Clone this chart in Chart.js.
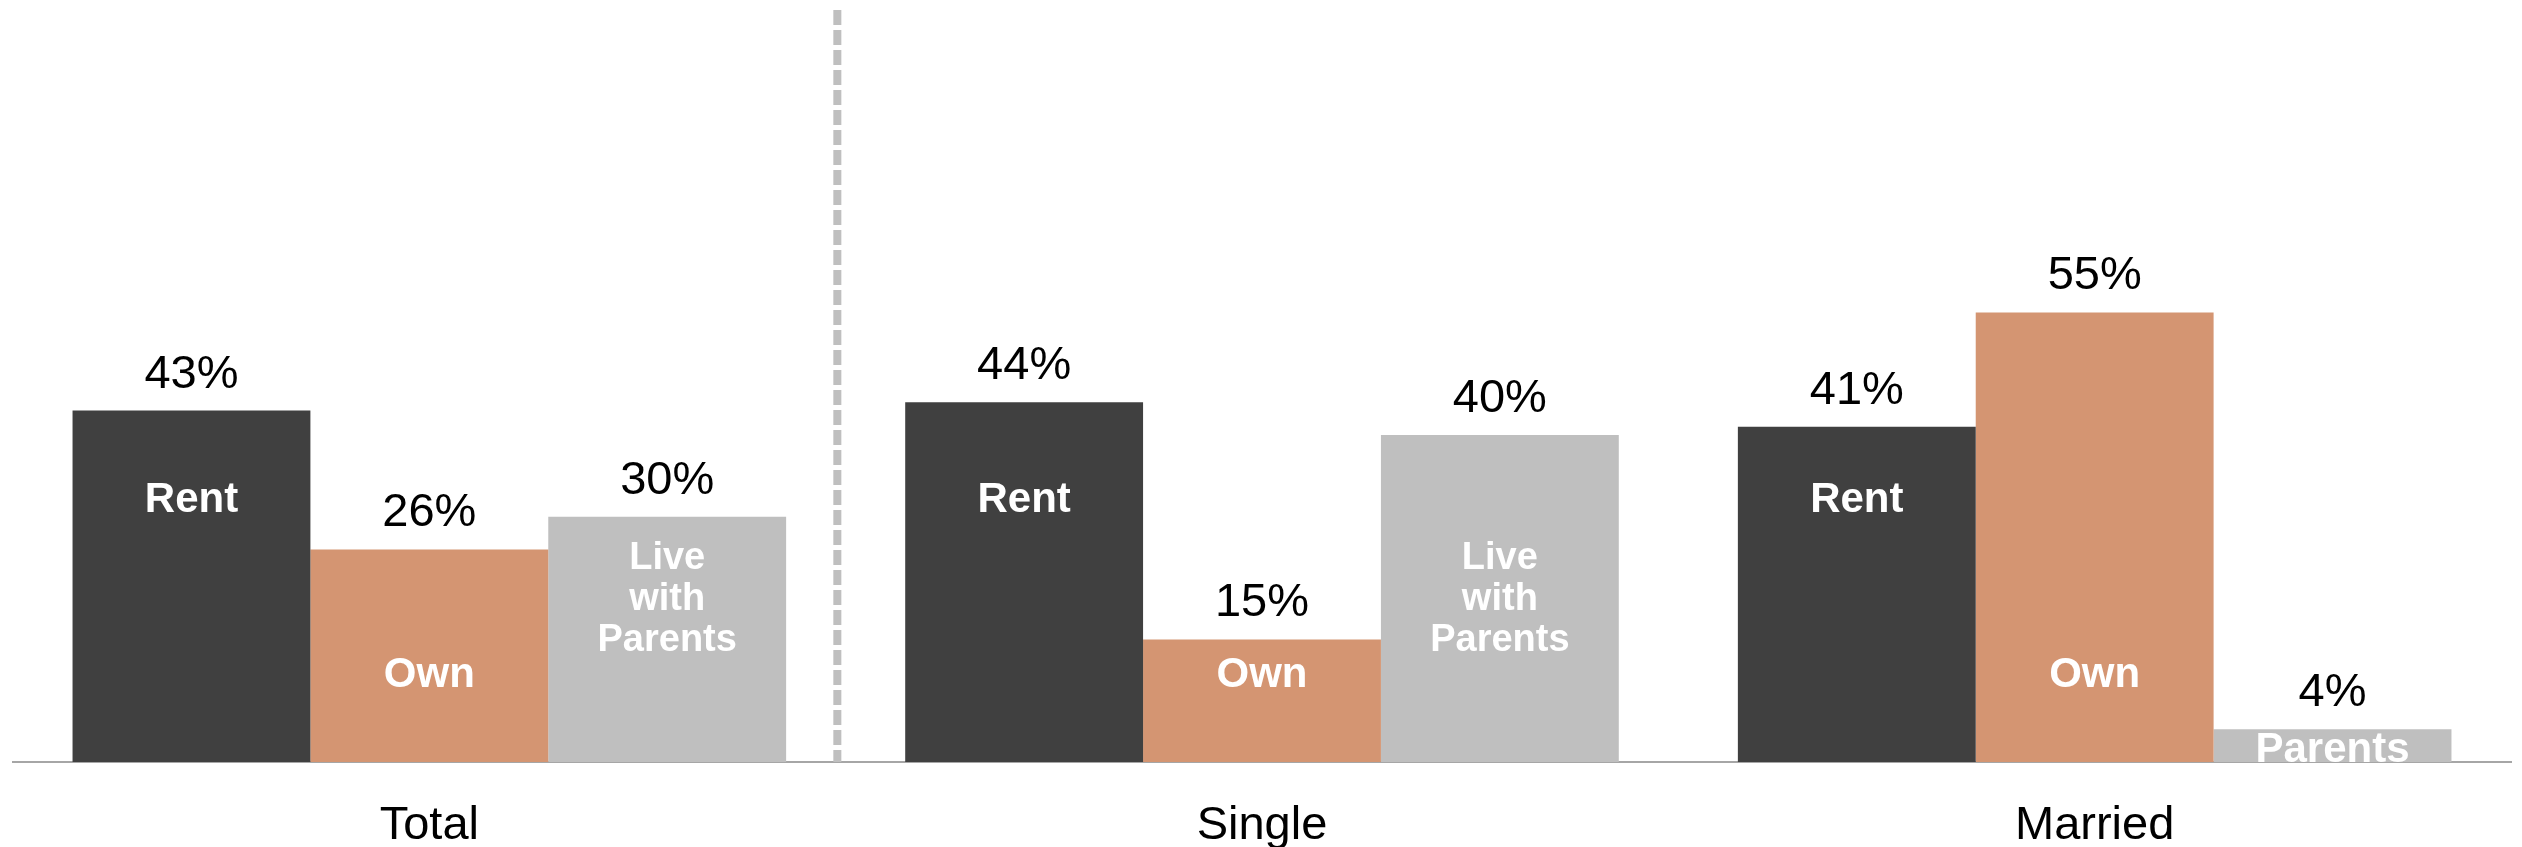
<!DOCTYPE html>
<html>
<head>
<meta charset="utf-8">
<script src="https://cdn.jsdelivr.net/npm/chart.js@4"></script>
<style>
  body { margin: 0; background: #fff; }
  #wrap { width: 2522px; height: 847px; position: relative; }
</style>
</head>
<body>
<div id="wrap"><canvas id="myChart"></canvas></div>
<script>
// data
const groups = ['Total', 'Single', 'Married']
const rent = [43, 44, 41]
const own = [26, 15, 55]
const withParents = [30, 40, 4]
const seriesNames = ['Rent', 'Own', 'Live with Parents']

const FONT = '"Liberation Sans", Arial, sans-serif'

// where the white names sit inside the bars (baseline of last line, in % units)
const insideStyle = [
    { lines: ['Rent'], at: 30.6, size: 42, gap: 0 },
    { lines: ['Own'], at: 9.2, size: 42, gap: 0 },
    { lines: ['Live', 'with', 'Parents'], at: 13.6, size: 38, gap: 41 }
]
// married "live with parents" box sits at the bottom of its short bar
const insideOverride = { '2-2': { at: 0, size: 42, gap: 47 } }

// dashed divider between Total and the other two groups
const divider = {
    id: 'divider',
    beforeDatasetsDraw(chart) {
        const { ctx, chartArea, scales } = chart
        const x = scales.x.getPixelForValue(0.49)
        ctx.save()
        ctx.strokeStyle = '#BFBFBF'
        ctx.lineWidth = 8
        ctx.setLineDash([15, 5])
        ctx.beginPath()
        ctx.moveTo(x, chartArea.top)
        ctx.lineTo(x, chartArea.bottom)
        ctx.stroke()
        ctx.restore()
    }
}

// value labels on top + series names inside the bars
const barText = {
    id: 'barText',
    afterDatasetsDraw(chart) {
        const ctx = chart.ctx
        const yScale = chart.scales.y
        chart.data.datasets.forEach((ds, di) => {
            const meta = chart.getDatasetMeta(di)
            meta.data.forEach((bar, i) => {
                ctx.save()
                ctx.fillStyle = '#000'
                ctx.font = '47px ' + FONT
                ctx.textAlign = 'center'
                ctx.textBaseline = 'alphabetic'
                ctx.fillText(ds.data[i] + '%', bar.x, bar.y - 23)
                ctx.restore()

                const lab = Object.assign({}, insideStyle[di], insideOverride[di + '-' + i] || {})
                const left = bar.x - bar.width / 2
                ctx.save()
                ctx.beginPath()
                ctx.rect(left, bar.y, bar.width, bar.base - bar.y)
                ctx.clip()
                ctx.fillStyle = '#fff'
                ctx.font = 'bold ' + lab.size + 'px ' + FONT
                ctx.textAlign = 'center'
                ctx.textBaseline = 'alphabetic'
                const lastY = yScale.getPixelForValue(lab.at)
                const n = lab.lines.length
                lab.lines.forEach((t, k) => {
                    ctx.fillText(t, bar.x, lastY - (n - 1 - k) * lab.gap)
                })
                ctx.restore()
            })
        })
    }
}

const ctx = document.getElementById('myChart')

new Chart(ctx, {
    type: 'bar',
    data: {
        labels: groups,
        datasets: [
            { label: seriesNames[0], data: rent, backgroundColor: '#404040' },
            { label: seriesNames[1], data: own, backgroundColor: '#D49572' },
            { label: seriesNames[2], data: withParents, backgroundColor: '#BFBFBF' }
        ]
    },
    plugins: [divider, barText],
    options: {
        responsive: true,
        maintainAspectRatio: false,
        animation: false,
        layout: { padding: { top: 10, left: 13, right: 11, bottom: 0 } },
        datasets: {
            bar: { barPercentage: 1, categoryPercentage: 0.857, borderWidth: 0 }
        },
        scales: {
            x: {
                grid: { display: false, drawTicks: false },
                border: { display: true, color: '#A6A6A6', width: 2 },
                ticks: {
                    color: '#000',
                    padding: 36,
                    font: { family: FONT, size: 47, lineHeight: 1.2 }
                },
                afterFit(scale) { scale.height = 85 }
            },
            y: {
                display: false,
                min: 0,
                max: 92
            }
        },
        plugins: {
            legend: { display: false },
            tooltip: { enabled: false }
        }
    }
})
</script>
</body>
</html>
